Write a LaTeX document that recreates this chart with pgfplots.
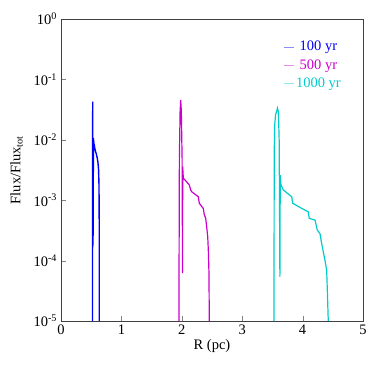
\documentclass[border=0pt]{standalone}
\usepackage{fontspec}
\setmainfont{Liberation Serif}
\usepackage{pgfplots}
\pgfplotsset{compat=1.18}
\definecolor{cblue}{RGB}{0,0,255}
\definecolor{cmag}{RGB}{204,0,204}
\definecolor{ccyan}{RGB}{0,204,204}
\begin{document}
\fontsize{14.5}{16}\selectfont
\begin{tikzpicture}
\begin{axis}[
    scale only axis,
    width=302pt, height=302pt,
    xmin=0, xmax=5, ymode=log, log basis y=10, ymin=1e-5, ymax=1,
    xtick={0,1,2,3,4,5},
    ytick={1e-5,1e-4,1e-3,1e-2,1e-1,1},
    yticklabels={10\textsuperscript{-5},10\textsuperscript{-4},10\textsuperscript{-3},10\textsuperscript{-2},10\textsuperscript{-1},10\textsuperscript{0}},
    tick pos=left, tick align=inside,
    major tick length=5pt, minor tick length=3pt,
    /pgf/number format/assume math mode=true,
    ticklabel style={font=\fontsize{14.5}{16}\selectfont},
    xticklabel style={yshift=1pt},
    yticklabel style={xshift=1pt},
    xlabel={R (pc)}, ylabel={Flux/Flux\textsubscript{tot}},
    label style={font=\fontsize{14.5}{16}\selectfont},
    xlabel style={yshift=5pt}, ylabel style={yshift=1pt},
    axis line style={black!75, line width=0.8pt},
    legend style={draw=none, fill=none, at={(0.725,0.94)}, anchor=north west,
        font=\fontsize{14.5}{16}\selectfont, row sep=2.5pt},
    legend image code/.code={\draw[#1, line width=0.9pt, opacity=0.45] (0pt,0pt) -- (10pt,0pt);},
    clip=true,
]
\addplot[cblue, line width=1.4pt] coordinates {
(0.521,1e-5) (0.525,0.0427) (0.530,1.8e-4) (0.537,0.0107) (0.545,0.0075)
(0.552,0.0080) (0.565,0.0068) (0.585,0.0058) (0.600,0.0050) (0.612,0.0042)
(0.622,0.0032) (0.629,0.0018) (0.633,4e-4) (0.634,1e-5)
};
\addlegendentry{\textcolor{cblue}{100 yr}}
\addplot[cmag, line width=1.2pt] coordinates {
(1.952,1e-5) (1.960,0.005) (1.972,0.03) (1.982,0.0456) (1.992,0.03)
(2.005,0.005) (2.012,6.2e-5) (2.015,0.0036) (2.025,0.0023) (2.053,0.00216)
(2.124,0.00179) (2.147,0.00148) (2.164,0.00138) (2.273,0.00114) (2.290,8.9e-4)
(2.313,8.3e-4) (2.356,7.3e-4) (2.373,5.7e-4) (2.396,5.0e-4) (2.412,3.6e-4)
(2.429,2.5e-4) (2.439,1.5e-4) (2.450,6.2e-5) (2.455,1e-5)
};
\addlegendentry{\textcolor{cmag}{500 yr}}
\addplot[ccyan, line width=1.2pt] coordinates {
(3.526,1e-5) (3.530,0.0052) (3.536,0.0165) (3.552,0.0258) (3.585,0.0335)
(3.600,0.0280) (3.612,0.0099) (3.624,5.4e-5) (3.630,0.0026) (3.642,0.00179)
(3.680,0.00148) (3.820,0.00114) (3.836,8.9e-4) (3.957,7.6e-4) (4.094,6.4e-4)
(4.110,5.0e-4) (4.205,4.7e-4) (4.243,3.2e-4) (4.288,2.8e-4) (4.316,1.9e-4)
(4.371,1.0e-4) (4.399,6.9e-5) (4.425,1e-5)
};
\addlegendentry{\textcolor{ccyan}{1000 yr}}
\end{axis}
\pgfresetboundingbox
\path (current axis.south west)+(-61pt,-45pt) rectangle ([shift={(19pt,19pt)}]current axis.north east);
\end{tikzpicture}
\end{document}
